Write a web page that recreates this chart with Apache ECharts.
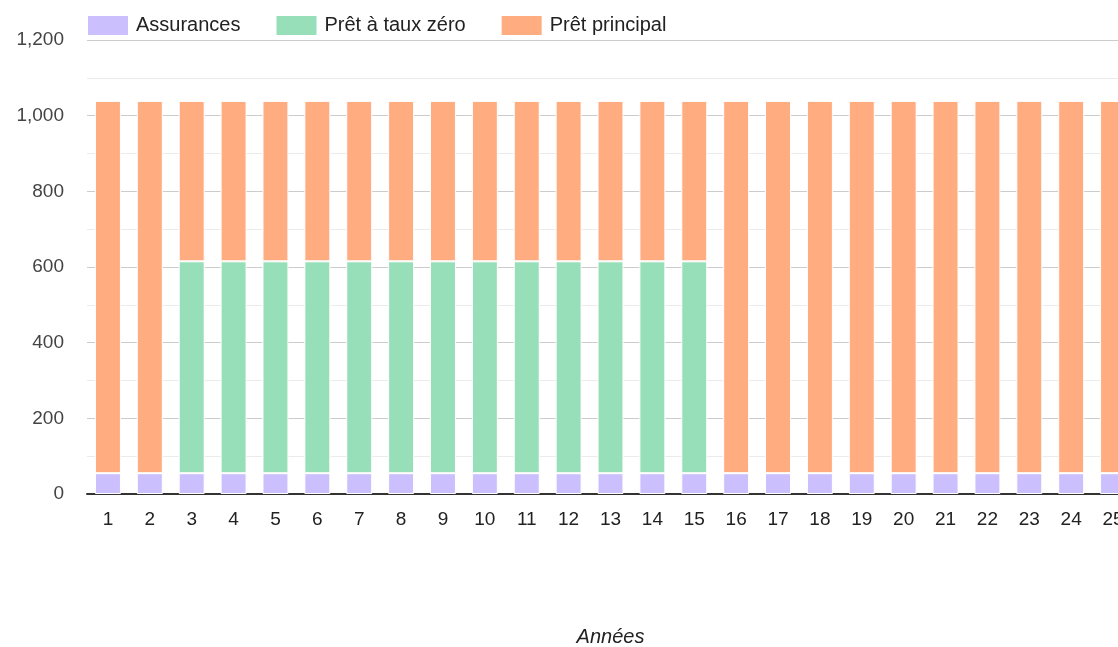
<!DOCTYPE html>
<html><head><meta charset="utf-8">
<script src="https://cdn.jsdelivr.net/npm/echarts@6/dist/echarts.min.js"></script>
<style>html,body{margin:0;padding:0;background:#fff}#c{width:1118px;height:647px}</style>
</head><body><div id="c"></div>
<script>
const categories = ['1','2','3','4','5','6','7','8','9','10','11','12','13','14','15','16','17','18','19','20','21','22','23','24','25'];
const assurances = [55,55,55,55,55,55,55,55,55,55,55,55,55,55,55,55,55,55,55,55,55,55,55,55,55];
const pretTauxZero = [0,0,560,560,560,560,560,560,560,560,560,560,560,560,560,0,0,0,0,0,0,0,0,0,0];
const pretPrincipal = [984,984,424,424,424,424,424,424,424,424,424,424,424,424,424,984,984,984,984,984,984,984,984,984,984];
const yTicks = [0,200,400,600,800,1000,1200];

const chart = echarts.init(document.getElementById('c'), null, {renderer:'canvas'});
const font = 'Liberation Sans, Arial, sans-serif';
function mk(name, data, color){
  return {name, type:'bar', stack:'t', data, barWidth:'62%',
    itemStyle:{color, borderColor:'#fff', borderWidth:1}, emphasis:{disabled:true}};
}
chart.setOption({
  animation:false,
  textStyle:{fontFamily:font},
  legend:{left:86, top:14, padding:0, itemWidth:42, itemHeight:21, itemGap:34,
    icon:'rect', textStyle:{fontSize:20, color:'#222', fontFamily:font, padding:[0,0,0,2]},
    data:['Assurances','Prêt à taux zéro','Prêt principal']},
  grid:{left:87, top:40, width:1047, height:454, outerBoundsMode:'none', containLabel:false},
  xAxis:{type:'category', data:categories,
    axisLine:{lineStyle:{color:'#333', width:2}}, axisTick:{show:false},
    axisLabel:{fontSize:19, color:'#222', margin:16, fontFamily:font},
    name:'Années', nameLocation:'middle', nameGap:133,
    nameTextStyle:{fontSize:20, fontStyle:'italic', color:'#222', fontFamily:font}},
  yAxis:{type:'value', min:yTicks[0], max:yTicks[yTicks.length-1], interval:200,
    axisLine:{show:false}, axisTick:{show:false},
    axisLabel:{fontSize:19, color:'#444', margin:23, fontFamily:font,
      formatter:v=>v.toLocaleString('en-US')},
    splitLine:{lineStyle:{color:'#cccccc', width:1}},
    minorTick:{show:false, splitNumber:2},
    minorSplitLine:{show:true, lineStyle:{color:'#ebebeb', width:1}}},
  series:[
    mk('Assurances', assurances, '#cbc0fd'),
    mk('Prêt à taux zéro', pretTauxZero, '#96dfb9'),
    mk('Prêt principal', pretPrincipal, '#ffac80')
  ]
});
</script></body></html>
